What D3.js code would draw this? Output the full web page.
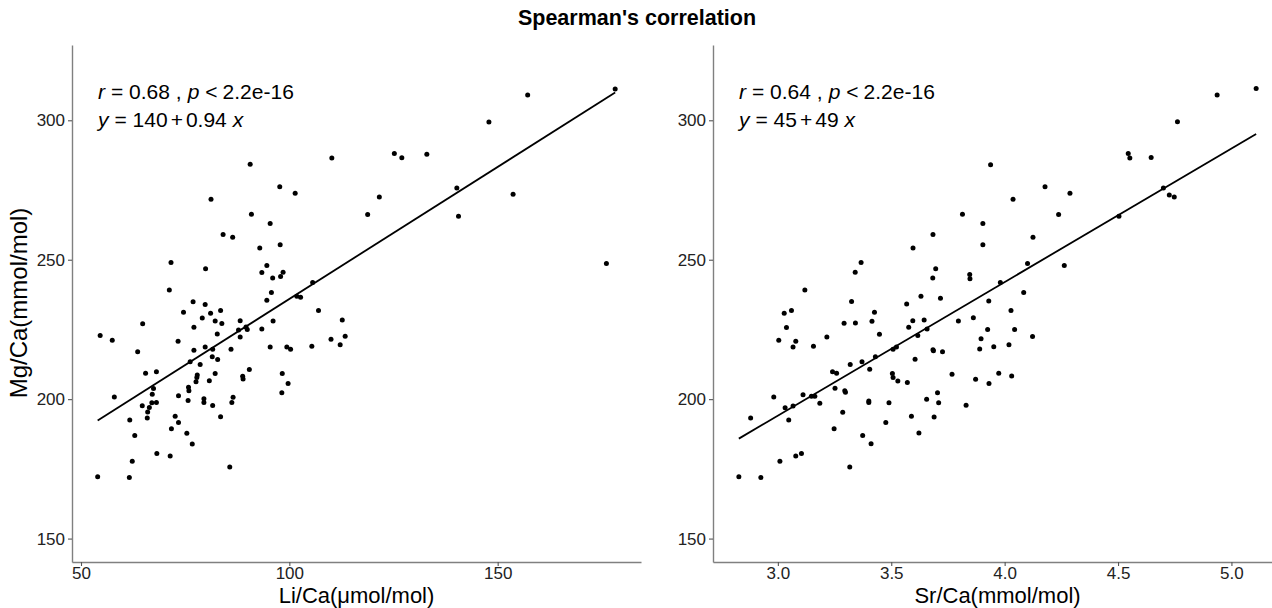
<!DOCTYPE html>
<html>
<head>
<meta charset="utf-8">
<script src="https://cdn.jsdelivr.net/npm/d3@7"></script>
<style>
  body { margin: 0; background: #fff; }
  svg { font-family: "Liberation Sans", Arial, sans-serif; }
</style>
</head>
<body>
<div id="chart"></div>
<script>
// Li/Ca (umol/mol) vs Mg/Ca (mmol/mol)
const liCa = [90.6, 110.2, 97.7, 101.4, 81.2, 90.9, 95.4, 84.1, 86.4, 92.9, 97.8, 71.6, 79.9, 94.6, 93.4, 98.5, 96.0, 97.9, 71.2, 95.7,
  105.6, 101.8, 102.7, 94.6, 76.9, 79.8, 74.6, 81.1, 83.5, 79.1, 82.2, 83.8, 88.2, 96.1, 107.0, 112.7, 64.8, 77.1, 87.8, 89.6,
  89.9, 93.4, 54.6, 57.5, 82.7, 88.2, 73.3, 110.0, 113.4, 112.2, 105.4, 95.4, 99.4, 100.3, 63.6, 77.1, 79.8, 81.6, 86.0, 81.5,
  82.8, 76.2, 78.6, 65.5, 68.1, 82.2, 90.4, 98.3, 77.9, 77.8, 77.6, 80.8, 88.8, 88.9, 99.7, 67.4, 67.1, 75.8, 75.9, 58.0,
  73.4, 98.2, 86.5, 75.7, 79.5, 79.5, 86.2, 67.0, 68.1, 64.7, 66.4, 66.0, 81.6, 65.9, 72.6, 73.4, 83.5, 61.7, 71.7, 75.4,
  62.9, 76.7, 68.2, 71.4, 62.3, 85.7, 54.0, 61.6, 125.2, 127.0, 133.0, 147.9, 157.2, 178.2, 121.6, 118.8, 140.2, 140.6, 153.7, 176.1];
const mgCaLi = [284.2, 286.5, 276.2, 273.8, 271.7, 266.3, 263.0, 259.0, 258.1, 254.2, 255.4, 249.0, 246.8, 247.9, 245.4, 245.5, 243.4, 244.0, 239.1, 238.2,
  241.8, 236.9, 236.5, 235.5, 234.9, 233.9, 231.2, 230.8, 231.8, 229.1, 228.0, 227.1, 228.1, 228.0, 231.8, 228.4, 227.0, 225.8, 224.8, 225.9,
  225.0, 225.2, 222.8, 221.1, 223.4, 222.3, 220.8, 221.5, 222.6, 219.5, 219.0, 218.7, 218.7, 217.9, 217.0, 217.5, 218.7, 217.9, 217.9, 215.2,
  214.2, 213.4, 212.4, 209.3, 209.8, 209.2, 210.6, 209.2, 208.7, 207.8, 206.2, 206.6, 208.2, 207.2, 205.6, 203.8, 201.8, 204.3, 203.0, 200.8,
  201.2, 202.3, 200.7, 199.5, 200.1, 198.8, 198.8, 198.7, 198.8, 197.6, 197.0, 195.4, 197.7, 193.2, 193.9, 191.6, 193.7, 192.5, 189.4, 187.8,
  187.0, 183.9, 180.5, 179.6, 177.7, 175.7, 172.2, 171.9, 288.1, 286.6, 287.8, 299.4, 309.1, 311.2, 272.5, 266.2, 275.7, 265.6, 273.5, 248.6];

// Sr/Ca (mmol/mol) vs Mg/Ca (mmol/mol)
const srCa = [3.938, 3.814, 3.904, 3.684, 3.904, 3.596, 5.109, 4.937, 4.762, 4.545, 4.552, 4.646, 4.178, 4.037, 4.288, 4.238, 4.125, 4.101, 4.263, 4.504,
  4.700, 4.726, 4.748, 3.981, 4.084, 3.930, 4.028, 3.925, 4.044, 3.896, 4.123, 3.890, 3.952, 4.019, 3.974, 4.031, 3.931, 3.367, 3.341, 3.119,
  3.696, 3.683, 3.846, 3.847, 3.717, 3.325, 3.028, 3.060, 3.038, 3.568, 3.631, 3.595, 3.645, 3.577, 3.658, 3.415, 3.426, 3.292, 3.342, 3.448,
  3.796, 3.862, 3.004, 3.079, 3.067, 3.157, 3.216, 3.617, 3.508, 3.523, 3.684, 3.686, 3.726, 3.605, 3.430, 3.371, 3.319, 3.405, 3.241, 3.259,
  3.505, 3.508, 3.529, 3.571, 3.768, 3.872, 3.252, 3.295, 3.298, 2.982, 3.111, 3.148, 3.163, 3.032, 3.067, 3.185, 3.401, 3.401, 3.490, 3.656,
  3.704, 3.709, 3.830, 2.880, 3.048, 3.286, 3.589, 3.689, 3.476, 3.248, 3.622, 3.374, 3.411, 3.009, 3.079, 3.104, 3.317, 2.828, 2.925];
const mgCaSr = [284.1, 266.3, 263.0, 259.0, 255.4, 254.2, 311.4, 309.1, 299.5, 288.1, 286.5, 286.7, 276.2, 271.7, 273.8, 266.2, 258.1, 248.6, 247.9, 265.6,
  275.7, 273.2, 272.5, 241.8, 238.2, 235.2, 231.8, 225.0, 225.0, 221.7, 222.5, 218.0, 218.8, 219.5, 209.3, 208.3, 205.6, 249.0, 245.5, 239.1,
  246.8, 243.4, 244.7, 243.2, 236.2, 235.0, 230.8, 231.8, 225.7, 234.1, 236.9, 228.1, 228.4, 225.8, 225.2, 227.9, 231.2, 227.2, 227.3, 223.3,
  228.0, 229.2, 221.1, 220.8, 218.7, 219.0, 222.3, 222.8, 217.9, 218.7, 217.7, 217.4, 217.0, 214.3, 215.2, 213.4, 212.4, 210.7, 209.8, 209.3,
  209.2, 207.8, 206.5, 206.0, 208.9, 207.1, 203.9, 203.0, 202.5, 200.8, 201.6, 201.0, 201.0, 196.9, 197.5, 198.5, 199.3, 198.8, 198.7, 200.0,
  202.3, 198.7, 197.8, 193.2, 192.5, 195.3, 193.9, 193.6, 191.6, 189.4, 187.9, 187.0, 184.0, 177.7, 179.6, 180.5, 175.7, 172.2, 171.9];

const yTicks = [150, 200, 250, 300];
const liTicks = [50, 100, 150];
const srTicks = [3.0, 3.5, 4.0, 4.5, 5.0];

const W = 1272, H = 608;
const plotTop = 45, plotBottom = 562, panelW = 569;

const svg = d3.select('#chart').append('svg')
  .attr('width', W).attr('height', H);

svg.append('text')
  .attr('x', 637).attr('y', 25)
  .attr('text-anchor', 'middle')
  .style('font-size', '21.5px').style('font-weight', 'bold')
  .text("Spearman's correlation");

// least squares fit, like geom_smooth(method = "lm")
function fit(xs, ys) {
  const mx = d3.mean(xs), my = d3.mean(ys);
  let sxy = 0, sxx = 0;
  xs.forEach((x, i) => { sxy += (x - mx) * (ys[i] - my); sxx += (x - mx) ** 2; });
  const b = sxy / sxx;
  return { a: my - b * mx, b };
}

function panel(opt) {
  const x = d3.scaleLinear().domain(opt.xDomain).range([opt.left, opt.left + panelW]);
  const y = d3.scaleLinear().domain([141.6, 327]).range([plotBottom, plotTop]);
  const g = svg.append('g');

  const axisY = d3.axisLeft(y).tickValues(yTicks).tickSize(4).tickSizeOuter(0).tickPadding(3);
  const axisX = d3.axisBottom(x).tickValues(opt.xTicks).tickSize(4).tickSizeOuter(0).tickPadding(1)
    .tickFormat(opt.fmt);

  [g.append('g').attr('transform', `translate(${opt.left},0)`).call(axisY),
   g.append('g').attr('transform', `translate(0,${plotBottom})`).call(axisX)].forEach(a => {
    a.select('.domain').attr('stroke', '#808080').attr('stroke-width', 1.4);
    a.selectAll('.tick line').attr('stroke', '#555').attr('stroke-width', 1.1);
    a.selectAll('.tick text').attr('fill', '#222').style('font-size', '17px')
      .style('font-family', '"Liberation Sans", Arial, sans-serif');
  });

  // points
  g.append('g').selectAll('circle')
    .data(opt.xs.map((v, i) => [v, opt.ys[i]]))
    .join('circle')
    .attr('cx', d => x(d[0]))
    .attr('cy', d => y(d[1]))
    .attr('r', 2.5)
    .attr('fill', '#000');

  // regression line
  const f = fit(opt.xs, opt.ys);
  const ext = d3.extent(opt.xs);
  g.append('line')
    .attr('x1', x(ext[0])).attr('y1', y(f.a + f.b * ext[0]))
    .attr('x2', x(ext[1])).attr('y2', y(f.a + f.b * ext[1]))
    .attr('stroke', '#000').attr('stroke-width', 1.8);

  // annotation
  const t1 = g.append('text').attr('x', opt.left + 26).attr('y', 99).style('font-size', '21px');
  t1.append('tspan').style('font-style', 'italic').text('r');
  t1.append('tspan').attr('dx', 6).text(`= ${opt.r} ,`);
  t1.append('tspan').attr('dx', 6).style('font-style', 'italic').text('p');
  t1.append('tspan').attr('dx', 6).text('<');
  t1.append('tspan').attr('dx', 5).text('2.2e-16');

  const t2 = g.append('text').attr('x', opt.left + 26).attr('y', 127).style('font-size', '21px');
  t2.append('tspan').style('font-style', 'italic').text('y');
  t2.append('tspan').attr('dx', 6).text(`= ${opt.eq[0]}`);
  t2.append('tspan').attr('dx', 3).text('+');
  t2.append('tspan').attr('dx', 3).text(`${opt.eq[1]}`);
  t2.append('tspan').attr('dx', 6).style('font-style', 'italic').text('x');

  g.append('text')
    .attr('x', opt.left + panelW / 2).attr('y', 603)
    .attr('text-anchor', 'middle')
    .style('font-size', '22px')
    .text(opt.xLabel);
}

panel({ left: 72, xDomain: [47.84, 184.4], xTicks: liTicks, fmt: d3.format('d'),
  xs: liCa, ys: mgCaLi, r: '0.68', eq: ['140', '0.94'], xLabel: 'Li/Ca(μmol/mol)' });
panel({ left: 713, xDomain: [2.714, 5.223], xTicks: srTicks, fmt: d3.format('.1f'),
  xs: srCa, ys: mgCaSr, r: '0.64', eq: ['45', '49'], xLabel: 'Sr/Ca(mmol/mol)' });

svg.append('text')
  .attr('transform', 'translate(27,303) rotate(-90)')
  .attr('text-anchor', 'middle')
  .style('font-size', '24px')
  .text('Mg/Ca(mmol/mol)');
</script>
</body>
</html>
